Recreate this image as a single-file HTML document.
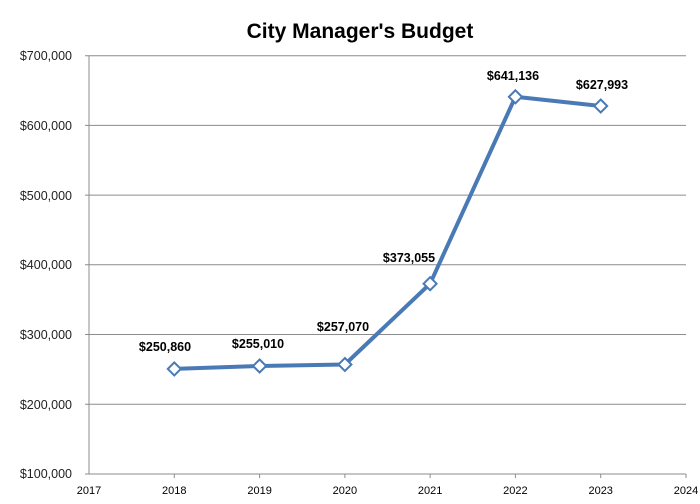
<!DOCTYPE html>
<html><head><style>body{margin:0;background:#fff}svg{display:block}</style></head><body>
<svg width="700" height="504" xmlns="http://www.w3.org/2000/svg" font-family="Liberation Sans, Calibri, sans-serif">
<text x="360" y="38" text-anchor="middle" font-size="21" font-weight="bold" fill="#000">City Manager's Budget</text>
<g stroke="#8c8c8c" stroke-width="1">
<line x1="85" y1="55.7" x2="686" y2="55.7"/>
<line x1="85" y1="125.4" x2="686" y2="125.4"/>
<line x1="85" y1="195.1" x2="686" y2="195.1"/>
<line x1="85" y1="264.8" x2="686" y2="264.8"/>
<line x1="85" y1="334.5" x2="686" y2="334.5"/>
<line x1="85" y1="404.2" x2="686" y2="404.2"/>
<line x1="85" y1="474" x2="686" y2="474"/>
<line x1="89" y1="55.7" x2="89" y2="474"/>
<line x1="174.3" y1="474" x2="174.3" y2="478"/><line x1="259.6" y1="474" x2="259.6" y2="478"/><line x1="344.9" y1="474" x2="344.9" y2="478"/><line x1="430.1" y1="474" x2="430.1" y2="478"/><line x1="515.4" y1="474" x2="515.4" y2="478"/><line x1="600.7" y1="474" x2="600.7" y2="478"/><line x1="686" y1="474" x2="686" y2="478"/>
</g>
<g font-size="12.5" fill="#222" text-anchor="end">
<text x="72" y="60">$700,000</text><text x="72" y="130">$600,000</text><text x="72" y="200">$500,000</text><text x="72" y="269">$400,000</text><text x="72" y="339">$300,000</text><text x="72" y="409">$200,000</text><text x="72" y="478">$100,000</text>
</g>
<g font-size="11" fill="#000" text-anchor="middle">
<text x="89" y="494">2017</text><text x="174.3" y="494">2018</text><text x="259.6" y="494">2019</text><text x="344.9" y="494">2020</text><text x="430.1" y="494">2021</text><text x="515.4" y="494">2022</text><text x="600.7" y="494">2023</text><text x="686" y="494">2024</text>
</g>
<polyline points="174.3,368.9 259.6,366 344.9,364.5 430.1,283.7 515.4,96.8 600.7,106" fill="none" stroke="#4a7ab5" stroke-width="4" stroke-linejoin="round"/>
<g fill="#fff" stroke="#4a7ab5" stroke-width="2">
<path d="M174.3,362.4 l6.5,6.5 l-6.5,6.5 l-6.5,-6.5z"/>
<path d="M259.6,359.5 l6.5,6.5 l-6.5,6.5 l-6.5,-6.5z"/>
<path d="M344.9,358 l6.5,6.5 l-6.5,6.5 l-6.5,-6.5z"/>
<path d="M430.1,277.2 l6.5,6.5 l-6.5,6.5 l-6.5,-6.5z"/>
<path d="M515.4,90.3 l6.5,6.5 l-6.5,6.5 l-6.5,-6.5z"/>
<path d="M600.7,99.5 l6.5,6.5 l-6.5,6.5 l-6.5,-6.5z"/>
</g>
<g font-size="12.5" font-weight="bold" fill="#000" text-anchor="middle">
<text x="165" y="351">$250,860</text><text x="258" y="348">$255,010</text><text x="343" y="331">$257,070</text><text x="409" y="262">$373,055</text><text x="513" y="80">$641,136</text><text x="602" y="89">$627,993</text>
</g>
</svg>
</body></html>
